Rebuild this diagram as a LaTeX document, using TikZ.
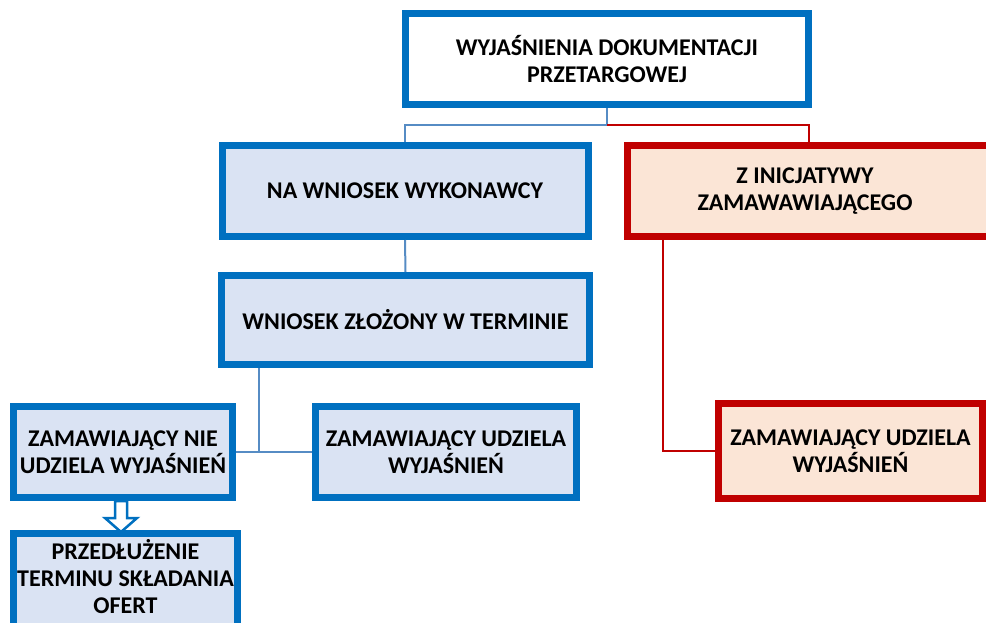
\documentclass[tikz,border=0pt]{standalone}
\usepackage{fontspec}
\setmainfont{Carlito}
\usetikzlibrary{positioning,calc}
\definecolor{ramblue}{RGB}{0,112,192}
\definecolor{linblue}{RGB}{86,140,196}
\definecolor{boxblue}{RGB}{218,227,243}
\definecolor{ramred}{RGB}{192,0,0}
\definecolor{boxred}{RGB}{251,229,214}

\begin{document}
\begin{tikzpicture}[x=1pt,y=-1pt,
	kast/.style={rectangle,draw=ramblue,fill=boxblue,line width=7pt,align=center,
		font=\fontsize{24}{27}\selectfont\bfseries,inner sep=2pt},
	kastrood/.style={kast,draw=ramred,fill=boxred},
	tekst/.style={align=center,font=\fontsize{24}{27}\selectfont\bfseries},
	lijn/.style={draw=linblue,line width=2pt},
	lijnrood/.style={draw=ramred,line width=2pt}
]
	\path[use as bounding box,clip] (0,0) rectangle (986,623);
	% bovenste niveau
	\node[kast,fill=white,minimum width=403pt,minimum height=91pt] (top) at (607,59) {WYJAŚNIENIA DOKUMENTACJI\\PRZETARGOWEJ};
	\node[kast,minimum width=366pt,minimum height=91pt] (wyk) at (405,191) {NA WNIOSEK WYKONAWCY};
	\node[kastrood,minimum width=420pt,minimum height=91pt,anchor=west] (inic) at (624,191) {};
	\node[tekst] (inictekst) at (805,191) {Z INICJATYWY\\ZAMAWAWIAJĄCEGO};
	% tweede niveau
	\node[kast,minimum width=368pt,minimum height=89pt] (term) at (405.5,320) {WNIOSEK ZŁOŻONY W TERMINIE};
	\node[kast,minimum width=219pt,minimum height=91pt] (nie) at (123,452) {ZAMAWIAJĄCY NIE\\UDZIELA WYJAŚNIEŃ};
	\node[kast,minimum width=261pt,minimum height=91pt] (udz) at (446,452) {ZAMAWIAJĄCY UDZIELA\\WYJAŚNIEŃ};
	\node[kastrood,minimum width=264pt,minimum height=95pt] (udzrood) at (850.5,451) {ZAMAWIAJĄCY UDZIELA\\WYJAŚNIEŃ};
	\node[kast,minimum width=224pt,minimum height=110pt,anchor=north] (ofert) at (125.5,530) {};
	\node[tekst] (oferttekst) at (125.5,577) {PRZEDŁUŻENIE\\TERMINU SKŁADANIA\\OFERT};
	% verbindingen
	\coordinate (knoop) at (259,452);
	\draw[lijn] (top.south) -- ++(0,17) -| (wyk.north);
	\draw[lijnrood] (top.south) ++(0,17) -| (809,142);
	\draw[lijn] (wyk.south) -- (term.north);
	\draw[lijn] (term.south -| knoop) -- (knoop);
	\draw[lijn] (nie.east) -- (udz.west);
	\draw[lijnrood] ($(inic.south west)+(39,0)$) |- (udzrood.west);
	% dubbele pijl
	\coordinate (pijl) at ($(nie.south)+(-2,0)$);
	\draw[draw=ramblue,line width=2.5pt,fill=white,line join=miter]
		($(pijl)+(-6,0)$) -- ++(0,17) -- ++(-10,0) -- ($(pijl)+(0,31)$)
		-- ($(pijl)+(16,17)$) -- ++(-10,0) -- ++(0,-17) -- cycle;
\end{tikzpicture}
\end{document}
